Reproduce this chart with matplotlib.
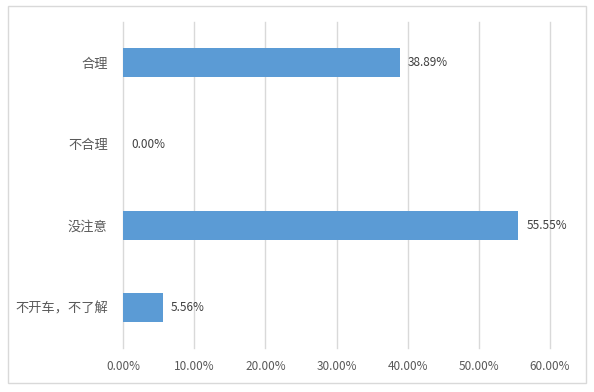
import matplotlib
matplotlib.use("Agg")
import matplotlib.pyplot as plt
from matplotlib.patches import Rectangle

plt.rcParams['font.family'] = ['Noto Sans CJK SC', 'DejaVu Sans']

categories = ["合理", "不合理", "没注意", "不开车，不了解"]
values = [38.89, 0.00, 55.55, 5.56]
xticks = [0, 10, 20, 30, 40, 50, 60]
xticklabels = ["0.00%", "10.00%", "20.00%", "30.00%", "40.00%", "50.00%", "60.00%"]

W, H = 594, 392
fig = plt.figure(figsize=(W / 100, H / 100), dpi=100)
ax = fig.add_axes([123 / W, 1 - 348 / H, (550 - 123) / W, (348 - 22) / H])

ypos = list(range(len(categories)))
ax.barh(ypos, values, height=0.36, color="#5B9BD5", zorder=3)
ax.set_ylim(len(categories) - 0.5, -0.5)
ax.set_xlim(0, 60)
ax.set_xticks(xticks)
ax.set_xticklabels(xticklabels, fontsize=8.5)
ax.set_yticks(ypos)
ax.set_yticklabels(categories, fontsize=9.5)
ax.tick_params(axis='both', length=0, colors="#595959")
ax.tick_params(axis='y', pad=11)
ax.tick_params(axis='x', pad=9)
ax.grid(axis='x', color="#D9D9D9", linewidth=1, zorder=0)
for gl in ax.get_xgridlines():
    gl.set_clip_on(False)
for s in ax.spines.values():
    s.set_visible(False)

for y, v in zip(ypos, values):
    ax.annotate(f"{v:.2f}%", xy=(v, y), xytext=(6, 0), textcoords="offset points",
                va="center", ha="left", fontsize=8.5, color="#404040")

fig.patches.append(Rectangle((8 / W, 1 - 383 / H), (586 - 8) / W, (383 - 6) / H,
                             transform=fig.transFigure, fill=False,
                             edgecolor="#D9D9D9", linewidth=1))

fig.savefig("out.png", dpi=100)
